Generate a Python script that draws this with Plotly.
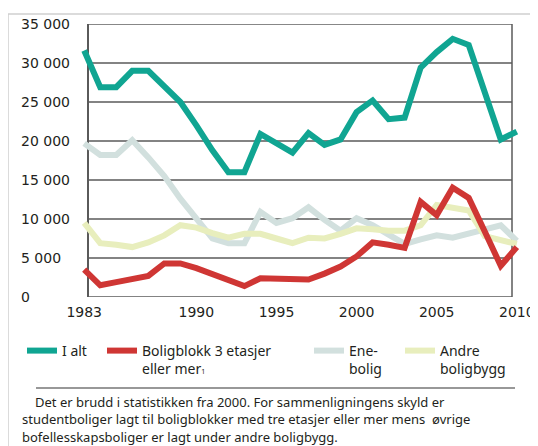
import plotly.graph_objects as go

# ---- data ----
years = list(range(1983, 2011))
i_alt = [31600, 26900, 26900, 29000, 29000, 27000, 25000, 22000, 18800, 16000,
         16000, 20900, 19700, 18500, 21000, 19500, 20200, 23700, 25200, 22800,
         23000, 29400, 31400, 33100, 32300, 26000, 20200, 21200]
boligblokk = [3500, 1500, 1900, 2300, 2700, 4300, 4300, 3700, 3000, 2300,
              1400, 2400, 2350, 2300, 2250, 3000, 3900, 5200, 7000, 6700,
              6300, 12200, 10500, 14000, 12700, 8400, 4000, 6400]
enebolig = [19700, 18200, 18200, 20100, 17900, 15500, 12600, 10000, 7500, 6900,
            6900, 10900, 9500, 10100, 11500, 9900, 8500, 10100, 9200, 8000,
            6800, 7400, 7900, 7600, 8200, 8700, 9200, 7200]
andre = [9500, 6900, 6700, 6400, 7000, 7900, 9200, 8900, 8200, 7600,
         8100, 8100, 7500, 6900, 7600, 7500, 8100, 8800, 8700, 8500,
         8500, 9200, 11800, 11500, 11100, 7800, 7300, 6800]

x_ticks = [1983, 1990, 1995, 2000, 2005, 2010]
y_ticks = [0, 5000, 10000, 15000, 20000, 25000, 30000, 35000]
y_tick_labels = ["0", "5 000", "10 000", "15 000", "20 000", "25 000", "30 000", "35 000"]

names = ["I alt",
         "Boligblokk 3 etasjer<br>eller mer<span style='font-size:7px'>1</span>",
         "Ene-<br>bolig", "Andre<br>boligbygg"]
colors = ["#10a592", "#cf3634", "#d2e0de", "#e8eebd"]

footnote = [
    "Det er brudd i statistikken fra 2000. For sammenligningens skyld er",
    "studentboliger lagt til boligblokker med tre etasjer eller mer mens  øvrige",
    "bofellesskapsboliger er lagt under andre boligbygg.",
]

# ---- layout geometry ----
# The page body has an 8px margin, so the figure is 8px smaller than the window
# and every reference pixel position maps to (p - 8) inside the figure.
OFF = 8
W, H = 538 - OFF, 446 - OFF
PL, PR, PT, PB = 81, 520, 24, 297          # plot area in window pixels
L, T = PL - OFF, PT - OFF
R, B = W - (PR - OFF), H - (PB - OFF)
PW, PH = PR - PL, PB - PT


def px_x(p):
    return (p - PL) / PW


def px_y(p):
    return (PB - p) / PH


TXT = "#231f20"
fig = go.Figure()

# (values, name, colour, legend id, legend left px)
series = [
    (enebolig, names[2], colors[2], "legend3", 309),
    (andre, names[3], colors[3], "legend4", 400),
    (boligblokk, names[1], colors[1], "legend2", 102),
    (i_alt, names[0], colors[0], "legend", 22),
]
legend_cfg = {}
for vals, name, col, lg, lx in series:
    fig.add_trace(go.Scatter(
        x=years, y=vals, mode="lines", name=name, legend=lg,
        line=dict(color=col, width=6), cliponaxis=False,
    ))
    legend_cfg[lg] = dict(orientation="h", x=px_x(lx), xanchor="left",
                          y=px_y(335), yanchor="top", valign="top",
                          font=dict(family="Noto Sans", size=14, color=TXT),
                          bgcolor="rgba(0,0,0,0)")

shapes = []
ax_x0, ax_x1 = px_x(88), px_x(512)
for v in y_ticks:
    top = v == y_ticks[-1]
    shapes.append(dict(type="line", xref="paper", yref="y", x0=ax_x0, x1=ax_x1,
                       y0=v, y1=v, layer="below",
                       line=dict(color="#111" if top else "#5a5a5a", width=1.2 if top else 1.5)))
shapes.append(dict(type="line", xref="paper", yref="y", x0=ax_x0, x1=ax_x0,
                   y0=y_ticks[0], y1=y_ticks[-1], layer="below",
                   line=dict(color="#5a5a5a", width=2)))
shapes.append(dict(type="line", xref="paper", yref="y", x0=ax_x1, x1=ax_x1,
                   y0=y_ticks[0], y1=y_ticks[-1], layer="below",
                   line=dict(color="#5a5a5a", width=1.5)))
# outer frame (light grey, top and left)
shapes.append(dict(type="line", xref="paper", yref="paper", x0=px_x(8), x1=px_x(545),
                   y0=px_y(14), y1=px_y(14), line=dict(color="#cfcfcf", width=1.5)))
shapes.append(dict(type="line", xref="paper", yref="paper", x0=px_x(8), x1=px_x(8),
                   y0=px_y(14), y1=px_y(450), line=dict(color="#cfcfcf", width=1.5)))
# rule under legend
shapes.append(dict(type="line", xref="paper", yref="paper", x0=px_x(36), x1=px_x(515),
                   y0=px_y(388), y1=px_y(388), line=dict(color="#333", width=1.2)))

annotations = []
for v, lab in zip(y_ticks, y_tick_labels):
    annotations.append(dict(x=px_x(19), xref="paper", y=v, yref="y", text=lab,
                            showarrow=False, xanchor="left", yanchor="middle",
                            font=dict(family="DejaVu Sans", size=14, color=TXT)))
for line, xp, yp in zip(footnote, [33, 20, 20], [402, 419, 437]):
    annotations.append(dict(x=px_x(xp), xref="paper", y=px_y(yp), yref="paper",
                            text=line, showarrow=False, xanchor="left", yanchor="middle",
                            font=dict(family="Noto Sans", size=13, color=TXT)))

fig.update_layout(
    width=W, height=H,
    margin=dict(l=L, r=R, t=T, b=B, autoexpand=False),
    paper_bgcolor="white", plot_bgcolor="white",
    xaxis=dict(range=[1982.8, 2010.2], showgrid=False, zeroline=False, showline=False,
               tickvals=x_ticks, ticks="outside", ticklen=2, tickcolor="rgba(0,0,0,0)",
               tickfont=dict(family="DejaVu Sans", size=14, color=TXT)),
    yaxis=dict(range=[0, 35000], showgrid=False, zeroline=False, showline=False,
               showticklabels=False),
    showlegend=True,
    shapes=shapes, annotations=annotations,
    **legend_cfg,
)

fig.write_html("out.html")
